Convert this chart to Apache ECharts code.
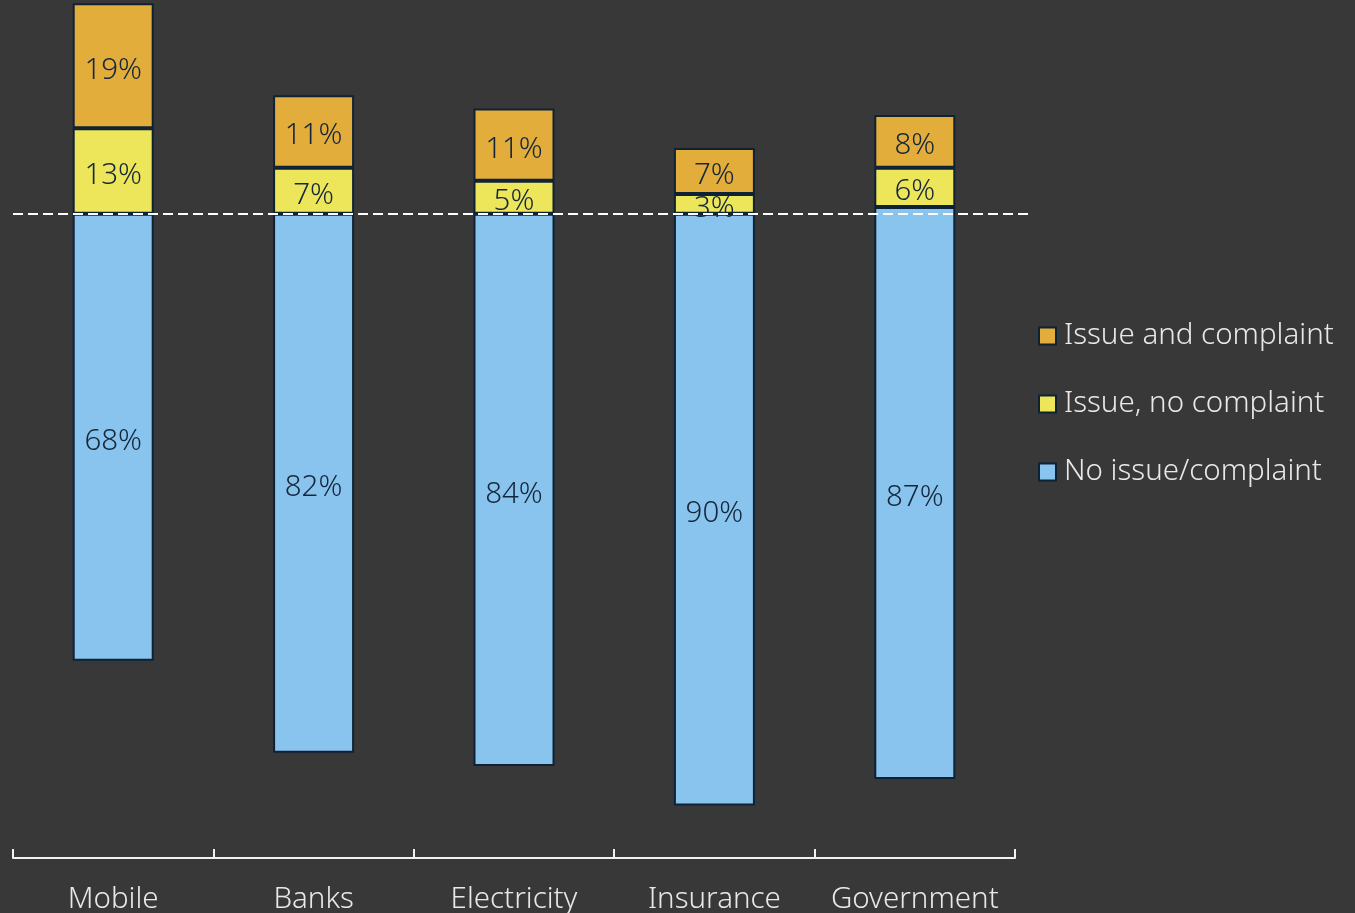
<!DOCTYPE html>
<html>
<head>
<meta charset="utf-8">
<title>Issues and complaints by sector</title>
<script src="https://cdn.jsdelivr.net/npm/echarts@6/dist/echarts.min.js"></script>
<style>
  html, body { margin: 0; padding: 0; background: #383838; }
  #chart { width: 1355px; height: 913px; }
</style>
</head>
<body>
<div id="chart"></div>
<script>
// Sectors along the x axis
const sectors = ['Mobile', 'Banks', 'Electricity', 'Insurance', 'Government'];

// Shares of respondents (%)
const noIssue = [68, 82, 84, 90, 87];        // No issue/complaint
const issueNoComplaint = [13, 7, 5, 3, 6];   // Issue, no complaint
const issueComplaint = [19, 11, 11, 7, 8];   // Issue and complaint

const seriesNames = ['Issue and complaint', 'Issue, no complaint', 'No issue/complaint'];

// Each column hangs from the zero line: the "no issue" block sits below it,
// its lower end placed at -(100 - issue shares).
const offset = sectors.map((_, i) => -(100 - issueNoComplaint[i] - issueComplaint[i]));

const COLORS = { complaint: '#E3AD3B', noComplaint: '#EDE65A', noIssue: '#89C4EF' };
const BORDER = '#0E2236';
const INK = '#14263A';
const LIGHT = '#E8E8E8';
const FONT = 'Noto Sans';
const FONT_SIZE = 29.5;
const FONT_WEIGHT = 300;

const GRID_LEFT = 13;
const GRID_RIGHT = 340;
const BAR_WIDTH = 81;

const barLabel = {
  show: true,
  position: 'inside',
  formatter: '{c}%',
  color: INK,
  fontSize: FONT_SIZE,
  fontWeight: FONT_WEIGHT,
  fontFamily: FONT,
  offset: [0, 4.5]
};

function segment(name, data, color) {
  return {
    name: name,
    type: 'bar',
    stack: 'share',
    stackStrategy: 'all',
    barWidth: BAR_WIDTH,
    data: data,
    itemStyle: { color: color, borderColor: BORDER, borderWidth: 2 },
    label: barLabel,
    emphasis: { disabled: true }
  };
}

const chart = echarts.init(document.getElementById('chart'), null, { renderer: 'canvas' });

const option = {
  backgroundColor: '#383838',
  animation: false,
  textStyle: { fontFamily: FONT },
  grid: {
    left: GRID_LEFT, right: GRID_RIGHT, top: 0, bottom: 55,
    containLabel: false, outerBoundsMode: 'none'
  },
  legend: {
    data: seriesNames,
    orient: 'vertical',
    left: 1033,
    top: 316,
    padding: 5,
    icon: 'rect',
    itemWidth: 17,
    itemHeight: 17,
    itemGap: 38,
    textStyle: {
      color: LIGHT, fontSize: FONT_SIZE, fontWeight: FONT_WEIGHT, fontFamily: FONT,
      lineHeight: 30, padding: [0, 0, 0, 3]
    },
    selectedMode: false
  },
  xAxis: {
    type: 'category',
    data: sectors,
    boundaryGap: true,
    axisLine: { onZero: false, lineStyle: { color: '#F2F2F2', width: 2 } },
    axisTick: { show: true, inside: true, length: 9, interval: 0, lineStyle: { color: '#F2F2F2', width: 2 } },
    axisLabel: { color: LIGHT, fontSize: FONT_SIZE, fontWeight: FONT_WEIGHT, fontFamily: FONT, margin: 27, interval: 0 },
    splitLine: { show: false }
  },
  yAxis: {
    type: 'value',
    min: -98,
    max: 32.5,
    show: false,
    splitLine: { show: false }
  },
  series: [
    {
      name: 'offset',
      type: 'bar',
      stack: 'share',
      stackStrategy: 'all',
      barWidth: BAR_WIDTH,
      data: offset,
      itemStyle: { color: 'transparent', borderWidth: 0 },
      label: { show: false },
      silent: true,
      emphasis: { disabled: true },
      markLine: {
        silent: true,
        symbol: 'none',
        label: { show: false },
        lineStyle: { color: '#FFFFFF', type: [10, 5], width: 2 },
        data: [[{ yAxis: 0, x: GRID_LEFT }, { yAxis: 0, x: 1355 - GRID_RIGHT + 15 }]]
      }
    },
    segment('No issue/complaint', noIssue, COLORS.noIssue),
    segment('Issue, no complaint', issueNoComplaint, COLORS.noComplaint),
    segment('Issue and complaint', issueComplaint, COLORS.complaint)
  ]
};

chart.setOption(option);
</script>
</body>
</html>
